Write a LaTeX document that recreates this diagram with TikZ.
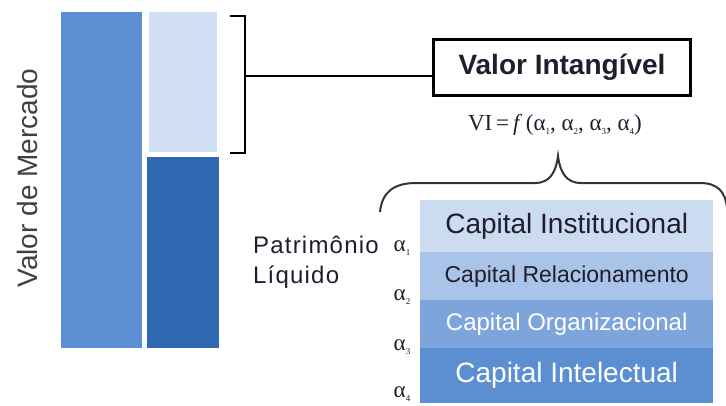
\documentclass[tikz,border=0pt]{standalone}
\usepackage{fontspec}
\setmainfont{Liberation Serif}
\setsansfont{Liberation Sans}

% palette
\definecolor{barmid}{HTML}{5B8FD1}
\definecolor{barlight}{HTML}{D1DFF2}
\definecolor{bardark}{HTML}{2D68B0}
\definecolor{rowa}{HTML}{CCDCF0}
\definecolor{rowb}{HTML}{A9C4E8}
\definecolor{rowc}{HTML}{7DA5DB}
\definecolor{rowd}{HTML}{5B8FD2}
\definecolor{inkdark}{HTML}{1E1E2E}
\definecolor{inkgray}{HTML}{404040}

% small weight subscript
\newcommand{\wsub}[1]{\raisebox{-0.15em}{\fontsize{9}{10}\selectfont #1}}

\tikzset{
  bar/.style={draw=none, inner sep=0pt, anchor=north west},
  row/.style={draw=none, inner sep=0pt, anchor=north west, minimum width=293pt,
              font=\sffamily},
  brk/.style={draw=black, line width=2pt},
  bracelin/.style={draw=black!80, line width=2pt},
  alab/.style={font=\fontsize{23}{26}\selectfont\rmfamily, text=inkdark, inner sep=0pt},
}

\begin{document}
\begin{tikzpicture}[x=1pt, y=-1pt]
\useasboundingbox (0,0) rectangle (726,405);

% market value bar and its two parts
\node[bar, fill=barmid, minimum width=81pt, minimum height=336pt] (mercado) at (61,12) {};
\node[bar, fill=barlight, minimum width=68pt, minimum height=140pt] (intang) at (149,12) {};
\node[bar, fill=bardark, minimum width=72pt, minimum height=191pt] (patrim) at (147,157) {};

% vertical axis label
\node[rotate=90, font=\sffamily\fontsize{28}{32}\selectfont, text=inkgray, inner sep=0pt]
  (vm) at (27,178) {Valor de Mercado};

% bracket over the intangible part
\coordinate (bt) at (230,16);
\coordinate (bb) at (230,153);
\coordinate (bm) at (245,76);
\draw[brk] (bt) -- (245,16) -- (245,153) -- (bb);

% intangible value box
\node[draw=black, line width=3pt, minimum width=257pt, minimum height=56pt, inner sep=0pt,
      font=\sffamily\bfseries\fontsize{28}{32}\selectfont, text=inkdark]
  (vi) at (562,67) {Valor Intangível};
\draw[brk] (bm) -- (bm -| vi.west);

% formula
\node[font=\rmfamily\fontsize{23}{26}\selectfont, text=inkdark, inner sep=0pt] (formula) at (555,125)
  {VI\,=\,\textit{f}\,(α\wsub{1}, α\wsub{2}, α\wsub{3}, α\wsub{4})};

% curly brace over the capital stack
\draw[bracelin] (380,212) .. controls (382,192) and (394,183) .. (416,183)
  -- (535,183) .. controls (550,183) and (556,172) .. (558,156)
  .. controls (560,172) and (566,183) .. (581,183)
  -- (700,183) .. controls (718,183) and (725,192) .. (727,207);

% stack of capitals
\node[row, fill=rowa, minimum height=52pt, text=inkdark, font=\sffamily\fontsize{28}{31}\selectfont]
  (ci) at (420,200) {Capital Institucional};
\node[row, fill=rowb, minimum height=48pt, text=inkdark, font=\sffamily\fontsize{23}{26}\selectfont]
  (cr) at (420,252) {Capital Relacionamento};
\node[row, fill=rowc, minimum height=48pt, text=white, font=\sffamily\fontsize{24}{27}\selectfont]
  (co) at (420,300) {Capital Organizacional};
\node[row, fill=rowd, minimum height=55pt, text=white, font=\sffamily\fontsize{28}{31}\selectfont]
  (cint) at (420,348) {Capital Intelectual};

% weights
\node[alab] (a1) at (402,248) {α\wsub{1}};
\node[alab] (a2) at (402,297) {α\wsub{2}};
\node[alab] (a3) at (402,347) {α\wsub{3}};
\node[alab] (a4) at (402,394) {α\wsub{4}};

% equity label
\node[font=\sffamily\fontsize{24}{30}\selectfont\addfontfeature{LetterSpace=5}, text=inkdark,
      align=left, anchor=north west, inner sep=0pt]
  (pl) at (253,236) {Patrimônio\\Líquido};
\end{tikzpicture}
\end{document}
